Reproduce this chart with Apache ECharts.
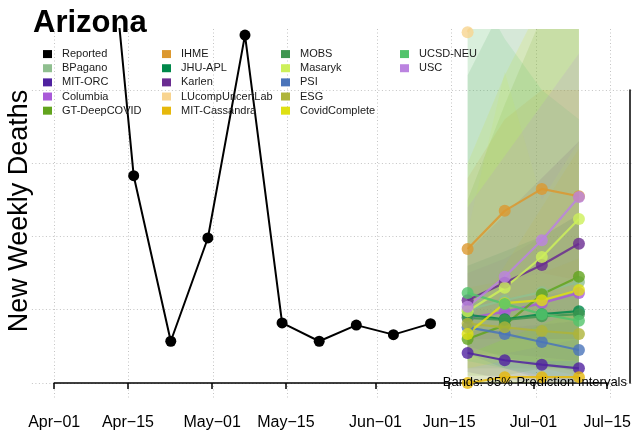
<!DOCTYPE html>
<html>
<head>
<meta charset="utf-8">
<script src="https://cdn.jsdelivr.net/npm/echarts@6/dist/echarts.min.js"></script>
<style>
html,body{margin:0;padding:0;background:#fff;}
#c{width:634px;height:434px;}
</style>
</head>
<body>
<div id="c"></div>
<script>
// ---------- data ----------
const reportedDates = ['2022-04-09','2022-04-16','2022-04-23','2022-04-30','2022-05-07','2022-05-14','2022-05-21','2022-05-28','2022-06-04','2022-06-11'];
const reportedValues = [811, 283, 57, 198, 475, 82, 57, 79, 66, 81];

const forecastDates = ['2022-06-18','2022-06-25','2022-07-02','2022-07-09'];

const modelNames = ['BPagano','MIT-ORC','Columbia','GT-DeepCOVID','IHME','JHU-APL','Karlen','LUcompUncertLab','MIT-Cassandra','MOBS','Masaryk','PSI','ESG','CovidComplete','UCSD-NEU','USC'];
const modelColors = ['#8fbf8f','#5022a0','#a95ad8','#62a41e','#dc982f','#00884a','#6a2c91','#f8d490','#e6b80b','#3e9650','#cdf05a','#4a74ba','#aeb43a','#dfe012','#52c46b','#bb83e0'];

// median forecasts (weekly deaths)
const modelPoints = [
  [100, 113, 124, 138],   // BPagano
  [41, 31, 25, 20],       // MIT-ORC
  [89, 97, 109, 123],     // Columbia
  [60, 79, 121, 145],     // GT-DeepCOVID
  [183, 235, 265, 255],   // IHME
  [93, 87, 94, 98],       // JHU-APL
  [113, 137, 161, 190],   // Karlen
  [479, 560, 640, 720],   // LUcompUncertLab
  [0, 8, 8, 8],           // MIT-Cassandra
  [89, 86, 91, 94],       // MOBS
  [98, 130, 172, 224],    // Masaryk
  [76, 67, 56, 45],       // PSI
  [81, 76, 71, 67],       // ESG
  [67, 109, 113, 127],    // CovidComplete
  [123, 108, 94, 85],     // UCSD-NEU
  [104, 145, 195, 254]    // USC
];
// 95% prediction interval bounds
const modelLower = [
  [20, 20, 20, 20],
  [15, 5, 0, 0],
  [40, 40, 35, 30],
  [10, 10, 20, 20],
  [110, 140, 150, 140],
  [50, 35, 25, 15],
  [60, 60, 60, 60],
  [480, 560, 640, 720],
  [0, 0, 0, 0],
  [0, 0, 0, 0],
  [30, 40, 50, 60],
  [40, 20, 5, 0],
  [40, 30, 20, 10],
  [20, 30, 30, 30],
  [30, 20, 10, 5],
  [40, 60, 80, 100]
];
const modelUpper = [
  [520, 520, 520, 520],
  [70, 75, 80, 85],
  [150, 170, 200, 230],
  [250, 380, 500, 600],
  [280, 360, 400, 400],
  [160, 180, 200, 230],
  [180, 230, 280, 330],
  [900, 1050, 1200, 1350],
  [80, 160, 240, 320],
  [420, 520, 600, 700],
  [206, 425, 250, 330],
  [110, 115, 120, 125],
  [130, 140, 150, 170],
  [300, 420, 520, 600],
  [560, 470, 400, 360],
  [240, 310, 380, 450]
];

const xTickDates = ['2022-04-01','2022-04-15','2022-05-01','2022-05-15','2022-06-01','2022-06-15','2022-07-01','2022-07-15'];
const xTickLabels = ['Apr\u221201','Apr\u221215','May\u221201','May\u221215','Jun\u221201','Jun\u221215','Jul\u221201','Jul\u221215'];
const yGridValues = [0, 100, 200, 300, 400];

const legendColumns = [
  ['Reported','BPagano','MIT-ORC','Columbia','GT-DeepCOVID'],
  ['IHME','JHU-APL','Karlen','LUcompUncertLab','MIT-Cassandra'],
  ['MOBS','Masaryk','PSI','ESG','CovidComplete'],
  ['UCSD-NEU','USC']
];

// ---------- build ----------
const DAY = 86400000;
const t = s => Date.UTC(+s.slice(0,4), +s.slice(5,7) - 1, +s.slice(8,10));
const tickTimes = xTickDates.map(t);
const fTimes = forecastDates.map(t);
const FONT = '"Liberation Sans", Arial, Helvetica, sans-serif';

const xMin = tickTimes[0] - 4.2 * DAY;
const xMax = tickTimes[tickTimes.length - 1] + 4.2 * DAY;

const series = [];
// bands
modelNames.forEach((m, i) => {
  series.push({
    type: 'line', name: m + ' lo', stack: 'band' + i, silent: true,
    data: fTimes.map((x, j) => [x, modelLower[i][j]]),
    symbol: 'none', lineStyle: { opacity: 0, width: 0 }, z: 1
  });
  series.push({
    type: 'line', name: m + ' band', stack: 'band' + i, silent: true,
    data: fTimes.map((x, j) => [x, modelUpper[i][j] - modelLower[i][j]]),
    symbol: 'none', lineStyle: { opacity: 0, width: 0 },
    areaStyle: { color: modelColors[i], opacity: 0.14 }, z: 1
  });
});
// reported
series.push({
  type: 'line', name: 'Reported', color: '#000',
  data: reportedDates.map((d, j) => [t(d), reportedValues[j]]),
  symbol: 'circle', symbolSize: 11, showAllSymbol: true,
  lineStyle: { color: '#000', width: 2 }, itemStyle: { color: '#000' }, z: 3
});
// forecasts
modelNames.forEach((m, i) => {
  series.push({
    type: 'line', name: m, color: modelColors[i],
    data: fTimes.map((x, j) => [x, modelPoints[i][j]]),
    symbol: 'circle', symbolSize: 12, showAllSymbol: true,
    lineStyle: { color: modelColors[i], width: 2.2, opacity: 0.85 },
    itemStyle: { color: modelColors[i], opacity: 0.8 }, z: 4
  });
});

const colorOf = n => n === 'Reported' ? '#000' : modelColors[modelNames.indexOf(n)];
const colLefts = [43, 162, 281, 400];
const legends = legendColumns.map((col, k) => ({
  orient: 'vertical', left: colLefts[k], top: 47, padding: 0,
  itemWidth: 9, itemHeight: 8, itemGap: 0, icon: 'rect', selectedMode: false,
  data: col.map(n => ({ name: n, icon: 'rect', itemStyle: { color: colorOf(n), opacity: 1 } })),
  textStyle: { fontFamily: FONT, fontSize: 11, color: '#1a1a1a', lineHeight: 14.15, padding: [0, 0, 0, 5] }
}));

const gridLine = { show: true, lineStyle: { color: '#c4c4c4', type: [1, 2.5], width: 1 } };
const hidden = { axisLine: { show: false }, axisTick: { show: false }, axisLabel: { show: false }, splitLine: { show: false } };

const option = {
  animation: false,
  backgroundColor: '#fff',
  legend: legends,
  grid: [
    { left: 31.9, top: 29, width: 601.1, height: 369 },   // plot region (data)
    { left: 54.2, top: 90, width: 556.5, height: 293 },   // axis frame
    { left: 54.2, top: 29, width: 556.5, height: 369 }    // vertical grid lines
  ],
  xAxis: [
    Object.assign({ gridIndex: 0, type: 'time', min: xMin, max: xMax }, hidden),
    { gridIndex: 1, type: 'value', min: tickTimes[0], max: tickTimes[tickTimes.length - 1], offset: 15,
      axisLine: { show: true, lineStyle: { color: '#000', width: 1.5 } },
      axisTick: { show: true, customValues: tickTimes, length: 6, lineStyle: { color: '#000', width: 1.5 } },
      axisLabel: { show: true, customValues: tickTimes, margin: 17, fontSize: 16, fontFamily: FONT, color: '#000',
        formatter: v => { const k = tickTimes.indexOf(v); return k >= 0 ? xTickLabels[k] : ''; } },
      splitLine: { show: false } },
    { gridIndex: 2, type: 'value', min: tickTimes[0], max: tickTimes[tickTimes.length - 1],
      axisLine: { show: false }, axisTick: { show: false, customValues: tickTimes },
      axisLabel: { show: false, customValues: tickTimes }, splitLine: gridLine }
  ],
  yAxis: [
    { gridIndex: 0, type: 'value', min: -20.5, max: 483.3,
      axisLine: { show: false }, axisTick: { show: false, customValues: yGridValues },
      axisLabel: { show: false, customValues: yGridValues }, splitLine: gridLine },
    { gridIndex: 1, type: 'value', min: 0, max: 400, position: 'right', offset: 22.3,
      axisLine: { show: true, lineStyle: { color: '#000', width: 1.5 } },
      axisTick: { show: false }, axisLabel: { show: false }, splitLine: { show: false } },
    Object.assign({ gridIndex: 2, type: 'value', min: 0, max: 1 }, hidden)
  ],
  series: series,
  graphic: [
    { type: 'text', left: 33, top: 8, z: 100,
      style: { text: 'Arizona', font: 'bold 31px ' + FONT, fill: '#000' } },
    { type: 'text', x: 20, y: 211, rotation: Math.PI / 2, z: 100,
      style: { text: 'New Weekly Deaths', font: '27px ' + FONT, fill: '#000', align: 'center', verticalAlign: 'middle' } },
    { type: 'text', x: 627, y: 382, z: 100,
      style: { text: 'Bands: 95% Prediction Intervals', font: '13px ' + FONT, fill: '#000', align: 'right', verticalAlign: 'middle' } }
  ]
};

const chart = echarts.init(document.getElementById('c'), null, { renderer: 'canvas' });
chart.setOption(option);
</script>
</body>
</html>
